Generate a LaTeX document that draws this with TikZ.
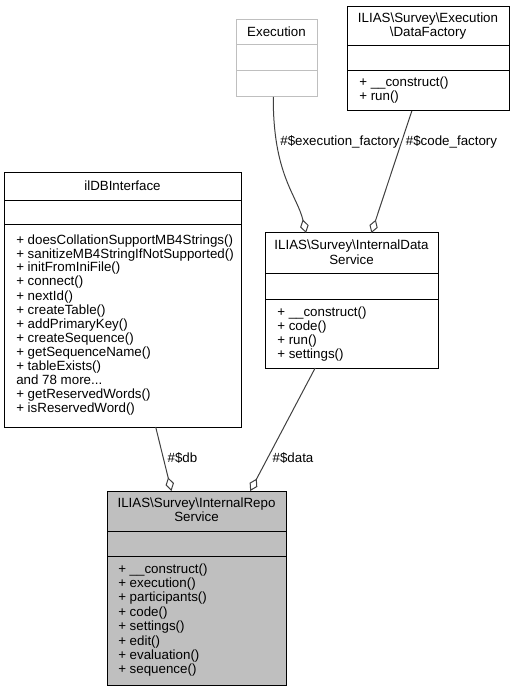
\documentclass[tikz,border=0pt]{standalone}
\usepackage{fontspec}
\setmainfont{Liberation Sans}
\usetikzlibrary{arrows.meta,calc}
\definecolor{boxgray}{HTML}{BFBFBF}
\definecolor{edgegray}{HTML}{404040}
\tikzset{
  cls/.style={draw=black, line width=0.75pt, fill=white, inner sep=0pt, outer sep=0pt, anchor=north west},
  ghost/.style={cls, draw=boxgray},
  current/.style={cls, fill=boxgray},
  txt/.style={inner sep=0pt, anchor=base west},
  ttl/.style={inner sep=0pt, anchor=base},
  lbl/.style={inner sep=0pt, anchor=base},
  agg/.style={draw=edgegray, line width=0.75pt, -{Diamond[open, fill=white, length=10.5pt, width=6.5pt, line width=0.75pt]}},
}
\begin{document}
\begin{tikzpicture}[x=0.75pt, y=-0.75pt, font=\fontsize{10}{10.5}\selectfont]
\useasboundingbox (0,0) rectangle (515,691);

% Execution (ghost)
\node[ghost, minimum width=81*0.75pt, minimum height=77*0.75pt] (exe) at (236,20) {};
\draw[boxgray, line width=0.75pt] (exe.west |- 0,45) -- (exe.east |- 0,45);
\draw[boxgray, line width=0.75pt] (exe.west |- 0,71) -- (exe.east |- 0,71);
\node[ttl] (exe-t) at (276.5,37) {Execution};

% DataFactory
\node[cls, minimum width=162*0.75pt, minimum height=104*0.75pt] (df) at (347,7) {};
\draw[line width=0.75pt] (df.west |- 0,46) -- (df.east |- 0,46);
\draw[line width=0.75pt] (df.west |- 0,71) -- (df.east |- 0,71);
\node[ttl] (df-t1) at (428,23) {ILIAS\textbackslash Survey\textbackslash Execution};
\node[ttl] (df-t2) at (428,37) {\textbackslash DataFactory};
\foreach \t [count=\i from 0] in {{+ \_\_construct()},{+ run()}}
  \node[txt] (df-m\i) at (359,87+14*\i) {\t};

% InternalDataService
\node[cls, minimum width=173*0.75pt, minimum height=135*0.75pt] (ids) at (265,233) {};
\draw[line width=0.75pt] (ids.west |- 0,273) -- (ids.east |- 0,273);
\draw[line width=0.75pt] (ids.west |- 0,299) -- (ids.east |- 0,299);
\node[ttl] (ids-t1) at (351.5,249) {ILIAS\textbackslash Survey\textbackslash InternalData};
\node[ttl] (ids-t2) at (351.5,264) {Service};
\foreach \t [count=\i from 0] in {{+ \_\_construct()},{+ code()},{+ run()},{+ settings()}}
  \node[txt] (ids-m\i) at (277,316+14*\i) {\t};

% ilDBInterface
\node[cls, minimum width=237*0.75pt, minimum height=254*0.75pt] (dbi) at (4,173) {};
\draw[line width=0.75pt] (dbi.west |- 0,201) -- (dbi.east |- 0,201);
\draw[line width=0.75pt] (dbi.west |- 0,225) -- (dbi.east |- 0,225);
\node[ttl] (dbi-t) at (122.5,191) {ilDBInterface};
\foreach \t [count=\i from 0] in {{+ doesCollationSupportMB4Strings()},{+ sanitizeMB4StringIfNotSupported()},{+ initFromIniFile()},{+ connect()},{+ nextId()},{+ createTable()},{+ addPrimaryKey()},{+ createSequence()},{+ getSequenceName()},{+ tableExists()},{and 78 more.{}.{}.},{+ getReservedWords()},{+ isReservedWord()}}
  \node[txt] (dbi-m\i) at (16,244+14*\i) {\t};

% InternalRepoService
\node[current, minimum width=179*0.75pt, minimum height=194*0.75pt] (repo) at (107,491) {};
\draw[line width=0.75pt] (repo.west |- 0,531) -- (repo.east |- 0,531);
\draw[line width=0.75pt] (repo.west |- 0,556) -- (repo.east |- 0,556);
\node[ttl] (repo-t1) at (196.5,507) {ILIAS\textbackslash Survey\textbackslash InternalRepo};
\node[ttl] (repo-t2) at (196.5,521) {Service};
\foreach \t [count=\i from 0] in {{+ \_\_construct()},{+ execution()},{+ participants()},{+ code()},{+ settings()},{+ edit()},{+ evaluation()},{+ sequence()}}
  \node[txt] (repo-m\i) at (118,573+14.4*\i) {\t};

% connectors
\draw[agg] ($(exe.south west)!0.46!(exe.south east)$) .. controls (273,175) and (297,195) .. ($(ids.north west)!0.237!(ids.north east)$);
\draw[agg] ($(df.south west)!0.40!(df.south east)$) -- ($(ids.north west)!0.615!(ids.north east)$);
\draw[agg] ($(dbi.south west)!0.64!(dbi.south east)$) -- ($(repo.north west)!0.36!(repo.north east)$);
\draw[agg] ($(ids.south west)!0.29!(ids.south east)$) -- ($(repo.north west)!0.80!(repo.north east)$);

% labels
\node[lbl] (l-exe) at (340,146) {\#\$execution\_factory};
\node[lbl] (l-code) at (451.5,146) {\#\$code\_factory};
\node[lbl] (l-db) at (182.5,462) {\#\$db};
\node[lbl] (l-data) at (293,462) {\#\$data};
\end{tikzpicture}
\end{document}
